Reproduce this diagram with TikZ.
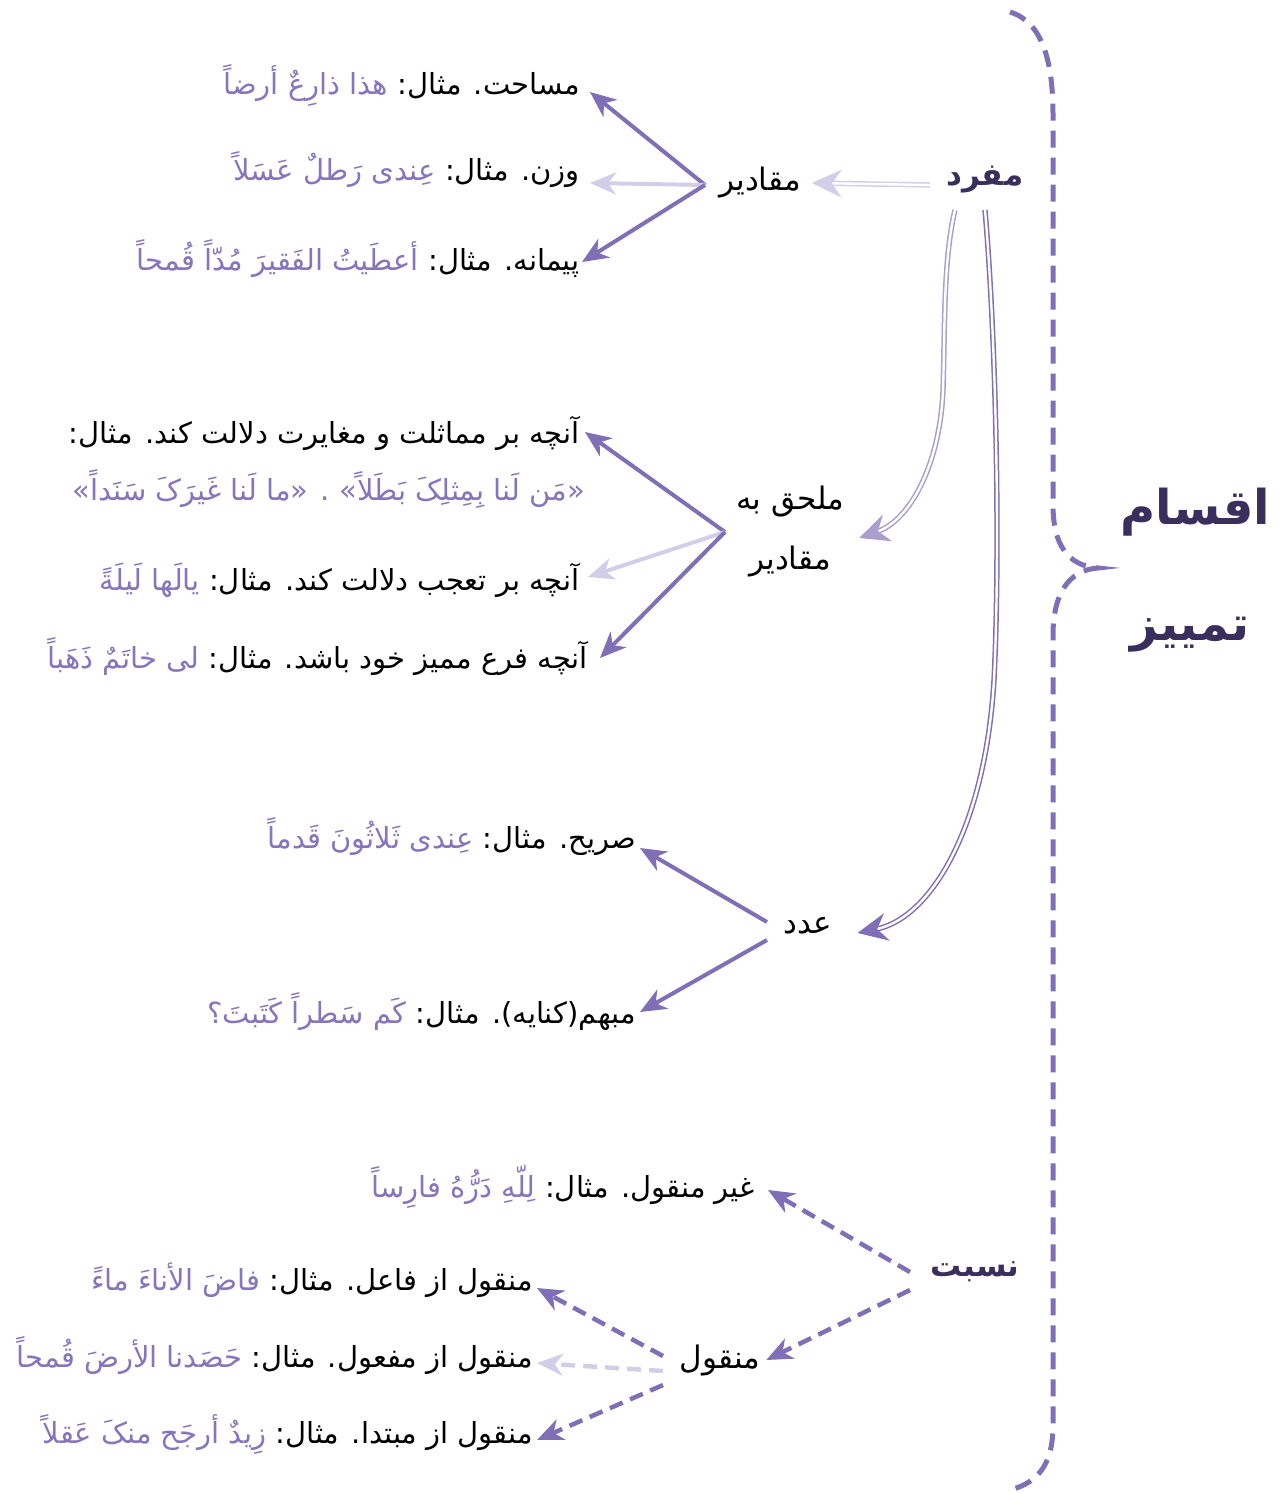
\documentclass[tikz,border=0pt]{standalone}
\usepackage{fontspec}
\usetikzlibrary{arrows.meta}
\TeXXeTstate=1
\newfontfamily\ar[Script=Arabic]{DejaVu Sans}
\definecolor{pur}{RGB}{128,110,182}
\definecolor{lite}{RGB}{210,206,232}
\definecolor{mid}{RGB}{170,158,206}
\definecolor{excol}{RGB}{134,116,188}
\definecolor{ttl}{RGB}{58,46,92}
\newcommand\rl[1]{\beginR #1\endR}
\begin{document}
\begin{tikzpicture}[x=1pt,y=-1pt,
  txt/.style={font=\ar\fontsize{29}{35}\selectfont, inner sep=0pt, anchor=base east},
  exm/.style={txt, text=excol},
  hub/.style={font=\ar\fontsize{31}{38}\selectfont, inner sep=2pt},
  head/.style={font=\ar\bfseries\fontsize{31}{37}\selectfont, text=ttl, inner sep=2pt},
  big/.style={font=\ar\bfseries\fontsize{48}{56}\selectfont, text=ttl, inner sep=0pt},
  tip/.style={-{Stealth[length=26pt,width=22pt,inset=8pt]}},
  arr/.style={draw=pur, line width=4pt, tip},
  arrl/.style={draw=lite, line width=4pt, tip},
  darr/.style={draw=pur, line width=4.5pt, dash pattern=on 14pt off 8pt, tip},
  darrl/.style={draw=lite, line width=4.5pt, dash pattern=on 14pt off 8pt, tip},
  dbl/.style={line width=1.5pt, double=white, double distance=2.4pt, -{Stealth[length=30pt,width=28pt,inset=10pt]}},
  brace/.style={draw=pur, line width=5pt, dash pattern=on 17pt off 10pt, line cap=butt}
]
\useasboundingbox (0,0) rectangle (1281,1493);

% brace
\draw[brace] (1010,12) .. controls (1042,22) and (1053,60) .. (1053,115)
  -- (1053,505) .. controls (1053,545) and (1068,566) .. (1098,568)
  .. controls (1068,570) and (1053,595) .. (1053,635)
  -- (1053,1425) .. controls (1053,1462) and (1040,1482) .. (1010,1490);

% titles
\node[big] (t1) at (1195,512) {\rl{اقسام}};
\node[big] (t2) at (1190,635) {\rl{تمییز}};

% heads
\node[head] (mofrad) at (985,180) {\rl{مفرد}};
\node[head] (nesbat) at (975,1272) {\rl{نسبت}};

% hubs
\node[hub] (maq) at (760,183) {\rl{مقادیر}};
\node[hub, align=center, font=\ar\fontsize{31}{60}\selectfont] (molh) at (790,532) {\rl{ملحق به}\\\rl{مقادیر}};
\node[hub] (adad) at (808,926) {\rl{عدد}};
\node[hub] (manq) at (720,1360) {\rl{منقول}};

% text lines (black part, then example)
\node[txt] (l1) at (580,95) {\rl{مساحت. مثال:}};
\node[exm] (e1) at ([xshift=-9pt]l1.base west) {\rl{هذا ذارِعٌ أرضاً}};
\node[txt] (l2) at (580,180) {\rl{وزن. مثال:}};
\node[exm] (e2) at ([xshift=-9pt]l2.base west) {\rl{عِندی رَطلٌ عَسَلاً}};
\node[txt] (l3) at (580,270) {\rl{پیمانه. مثال:}};
\node[exm] (e3) at ([xshift=-9pt]l3.base west) {\rl{أعطَیتُ الفَقیرَ مُدّاً قُمحاً}};
\node[txt] (l4) at (580,443) {\rl{آنچه بر مماثلت و مغایرت دلالت کند. مثال:}};
\node[exm] (l5) at (585,500) {\rl{«مَن لَنا بِمِثلِکَ بَطَلاً» . «ما لَنا غَیرَکَ سَنَداً»}};
\node[txt] (l6) at (580,590) {\rl{آنچه بر تعجب دلالت کند. مثال:}};
\node[exm] (e6) at ([xshift=-9pt]l6.base west) {\rl{یالَها لَیلَةً}};
\node[txt] (l7) at (588,668) {\rl{آنچه فرع ممیز خود باشد. مثال:}};
\node[exm] (e7) at ([xshift=-9pt]l7.base west) {\rl{لی خاتَمٌ ذَهَباً}};
\node[txt] (l8) at (636,848) {\rl{صریح. مثال:}};
\node[exm] (e8) at ([xshift=-9pt]l8.base west) {\rl{عِندی ثَلاثُونَ قَدماً}};
\node[txt] (l9) at (636,1023) {\rl{مبهم(کنایه). مثال:}};
\node[exm] (e9) at ([xshift=-9pt]l9.base west) {\rl{کَم سَطراً کَتَبتَ؟}};
\node[txt] (l10) at (755,1197) {\rl{غیر منقول. مثال:}};
\node[exm] (e10) at ([xshift=-9pt]l10.base west) {\rl{لِلّهِ دَرُّهُ فارِساً}};
\node[txt] (l11) at (533,1290) {\rl{منقول از فاعل. مثال:}};
\node[exm] (e11) at ([xshift=-9pt]l11.base west) {\rl{فاضَ الأناءَ ماءً}};
\node[txt] (l12) at (533,1367) {\rl{منقول از مفعول. مثال:}};
\node[exm] (e12) at ([xshift=-9pt]l12.base west) {\rl{حَصَدنا الأرضَ قُمحاً}};
\node[txt] (l13) at (533,1443) {\rl{منقول از مبتدا. مثال:}};
\node[exm] (e13) at ([xshift=-9pt]l13.base west) {\rl{زِیدٌ أرجَح منکَ عَقلاً}};

% coordinates for connector starts
\coordinate (mq) at (705,185);
\coordinate (ml) at (725,532);
\coordinate (ad1) at (767,922);
\coordinate (ad2) at (767,940);
\coordinate (ns1) at (910,1272);
\coordinate (ns2) at (910,1290);
\coordinate (mn1) at (663,1356);
\coordinate (mn2) at (663,1371);
\coordinate (mn3) at (663,1385);
\coordinate (mf1) at (955,210);
\coordinate (mf2) at (985,210);
\coordinate (mf0) at (930,185);

% connectors
\draw[dbl, draw=lite] (mf0) -- ([xshift=9pt]maq.east);
\draw[arr] (mq) -- ([xshift=10pt,yshift=3pt]l1.base east);
\draw[arrl] (mq) -- ([xshift=10pt,yshift=-3pt]l2.base east);
\draw[arr] (mq) -- ([xshift=2pt,yshift=8pt]l3.base east);

\draw[dbl, draw=mid] (mf1) .. controls (943,260) and (945,330) .. (943,390)
  .. controls (940,465) and (910,520) .. ([xshift=13pt,yshift=-6pt]molh.east);
\draw[arr] (ml) -- ([xshift=5pt,yshift=11pt]l4.base east);
\draw[arrl] (ml) -- ([xshift=8pt,yshift=13pt]l6.base east);
\draw[arr] (ml) -- ([xshift=12pt,yshift=10pt]l7.base east);

\draw[dbl, draw=pur] (mf2) .. controls (997,350) and (1000,560) .. (994,680)
  .. controls (985,830) and (930,918) .. ([xshift=23pt,yshift=-7pt]adad.east);
\draw[arr] (ad1) -- ([xshift=4pt]l8.base east);
\draw[arr] (ad2) -- ([xshift=4pt,yshift=11pt]l9.base east);

\draw[darr] (ns1) -- ([xshift=13pt,yshift=7pt]l10.base east);
\draw[darr] (ns2) -- ([xshift=4pt]manq.east);
\draw[darr] (mn1) -- ([xshift=4pt,yshift=2pt]l11.base east);
\draw[darrl] (mn2) -- ([xshift=4pt,yshift=4pt]l12.base east);
\draw[darr] (mn3) -- ([xshift=4pt,yshift=3pt]l13.base east);
\end{tikzpicture}
\end{document}
